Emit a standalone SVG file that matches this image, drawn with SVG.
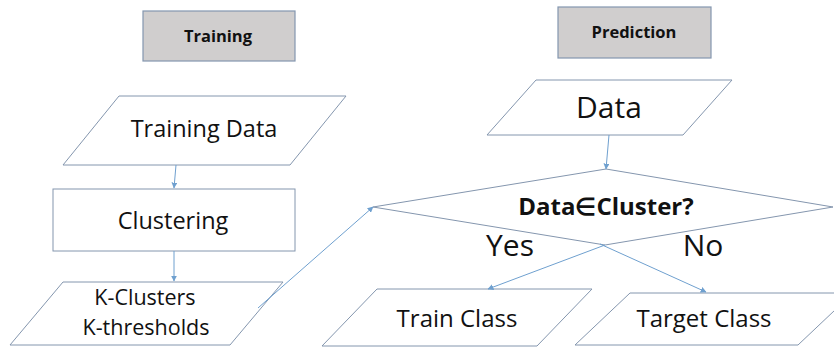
<svg xmlns="http://www.w3.org/2000/svg" width="834" height="347" viewBox="0 0 834 347">
<style>
.hdr{fill:#d0cece;stroke:#8497b0;stroke-width:1.2}
.shape{fill:#ffffff;stroke:#8496ae;stroke-width:1}
.conn{fill:none;stroke:#6fa0cf;stroke-width:1}
.t{font-family:"Open Sans","Noto Sans",sans-serif;fill:#111;text-anchor:middle}
.b{font-weight:bold}
</style>
<defs>
<marker id="ah" viewBox="0 0 10 10" refX="9" refY="5" markerWidth="6" markerHeight="6" orient="auto" markerUnits="userSpaceOnUse">
<path d="M0,0 L10,5 L0,10 z" fill="#6fa0cf"/>
</marker>
</defs>
<rect width="834" height="347" fill="#ffffff"/>
<g id="training-header">
<rect class="hdr" x="143" y="11" width="152" height="50"/>
<text class="t b" x="218" y="42" font-size="16.5">Training</text>
</g>
<g id="prediction-header">
<rect class="hdr" x="558" y="7" width="153" height="51"/>
<text class="t b" x="634" y="38" font-size="16.5">Prediction</text>
</g>
<g id="training-data">
<polygon class="shape" points="119,96 346,96 290,165 63,165"/>
<text class="t" x="204" y="137" font-size="23.5">Training Data</text>
</g>
<g id="clustering">
<rect class="shape" x="53" y="189" width="242" height="62"/>
<text class="t" x="173" y="229" font-size="23.5">Clustering</text>
</g>
<g id="k-clusters">
<polygon class="shape" points="63,282 283,282 230,345 10,345"/>
<text class="t" x="145" y="305" font-size="21.5">K-Clusters</text>
<text class="t" x="146" y="335" font-size="21.5">K-thresholds</text>
</g>
<g id="data">
<polygon class="shape" points="536,80 732,80 683,135 487,135"/>
<text class="t" x="609" y="118" font-size="30">Data</text>
</g>
<g id="decision">
<polygon class="shape" points="373,207 606,169 833,207 605,245"/>
<text class="t b" x="606" y="215" font-size="24">Data∈Cluster?</text>
</g>
<g id="train-class">
<polygon class="shape" points="377,289 592,289 537,346 322,346"/>
<text class="t" x="457" y="327" font-size="24">Train Class</text>
</g>
<g id="target-class">
<polygon class="shape" points="630,293 853,293 798,345 575,345"/>
<text class="t" x="704" y="327" font-size="24">Target Class</text>
</g>
<g id="connectors">
<line class="conn" x1="176" y1="165" x2="174" y2="188" marker-end="url(#ah)"/>
<line class="conn" x1="174" y1="251" x2="174" y2="281" marker-end="url(#ah)"/>
<line class="conn" x1="258" y1="308" x2="373" y2="207" marker-end="url(#ah)"/>
<line class="conn" x1="609" y1="135" x2="606" y2="169" marker-end="url(#ah)"/>
<line class="conn" x1="605" y1="245" x2="488" y2="289" marker-end="url(#ah)"/>
<line class="conn" x1="600" y1="244" x2="706" y2="292" marker-end="url(#ah)"/>
<text class="t" x="510" y="256" font-size="30">Yes</text>
<text class="t" x="703" y="256" font-size="30">No</text>
</g>
</svg>
